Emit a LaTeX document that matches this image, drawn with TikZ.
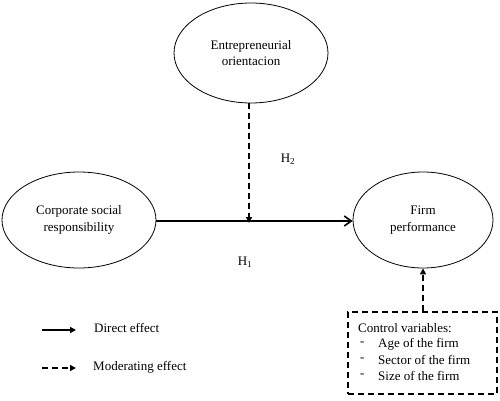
\documentclass[tikz,border=0pt]{standalone}
\usepackage{fontspec}
\setmainfont{Liberation Serif}
\usetikzlibrary{arrows.meta,shapes.geometric}
\begin{document}
\begin{tikzpicture}[x=1pt,y=-1pt,
  every node/.style={font=\fontsize{13}{16.5}\selectfont},
  oval/.style={draw, line width=0.8pt, ellipse, minimum width=#1, minimum height=96pt, align=center, inner sep=0pt},
  direct/.style={line width=2.2pt, -{Straight Barb[length=7pt,width=10pt,line width=1.6pt]}},
  moder/.style={line width=2pt, dash pattern=on 6pt off 4pt, -{Triangle[length=6pt,width=6pt]}},
  lbl/.style={anchor=west, inner sep=0pt}]
\useasboundingbox (0,0) rectangle (500,401);
\node[oval=154pt, minimum height=100pt] (eo) at (251,53) {Entrepreneurial\\orientacion};
\node[oval=154pt] (csr) at (79,220) {Corporate social\\responsibility};
\node[oval=140pt] (fp) at (423,220) {Firm\\performance};
\coordinate (mid) at (249,221);
\draw[direct] (csr.east |- mid) -- (fp.west |- mid);
\draw[moder] (eo.south -| mid) -- ([yshift=-2pt]mid);
\node (h2) at (288,159) {H\textsubscript{2}};
\node (h1) at (245,262) {H\textsubscript{1}};
\node[draw, line width=2pt, dash pattern=on 6pt off 4pt, minimum width=149pt, minimum height=82pt, inner sep=0pt] (cv) at (422.5,353) {};
\node[lbl] (cvt) at (358,328) {Control variables:};
\node[lbl] (d1) at (360,344) {-};
\node[lbl] (i1) at (378,344) {Age of the firm};
\node[lbl] (d2) at (360,360) {-};
\node[lbl] (i2) at (378,360) {Sector of the firm};
\node[lbl] (d3) at (360,376) {-};
\node[lbl] (i3) at (378,376) {Size of the firm};
\draw[moder] (cv.north -| fp) -- (fp.south);
\coordinate (l1a) at (42,330);
\coordinate (l1b) at (76,330);
\draw[direct, line width=1.8pt, -{Triangle[length=6pt,width=6pt]}] (l1a) -- (l1b);
\node[lbl] (t1) at (94,328) {Direct effect};
\coordinate (l2a) at (42,368);
\coordinate (l2b) at (76,368);
\draw[moder] (l2a) -- (l2b);
\node[lbl] (t2) at (93,367) {Moderating effect};
\end{tikzpicture}
\end{document}
